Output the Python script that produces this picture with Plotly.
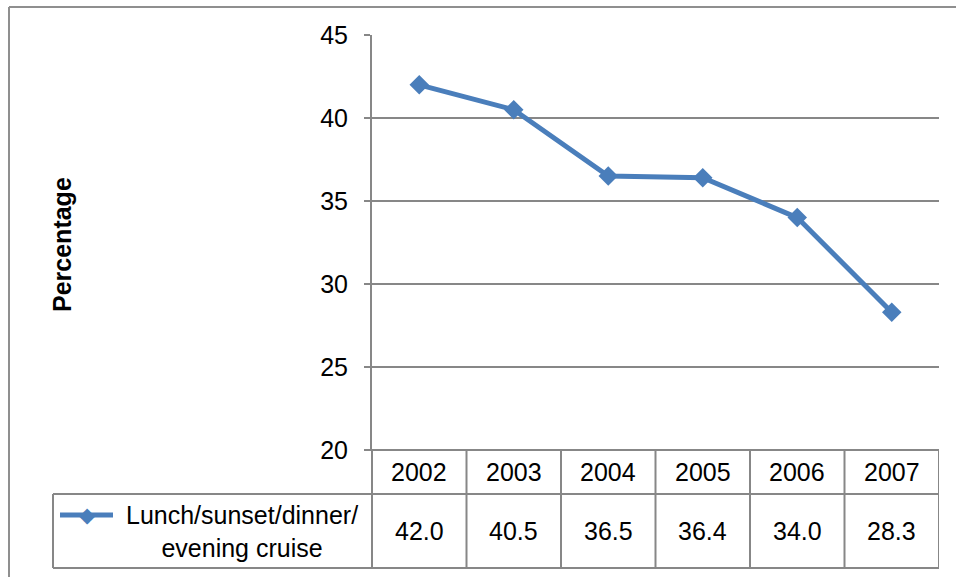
import plotly.graph_objects as go

years = ["2002", "2003", "2004", "2005", "2006", "2007"]
values = [42.0, 40.5, 36.5, 36.4, 34.0, 28.3]
series_name = "Lunch/sunset/dinner/<br>evening cruise"
y_ticks = [20, 25, 30, 35, 40, 45]
y_title = "Percentage"

W, H = 956, 577
BLUE = "#4A7EBB"
GRID = "#878787"
FONT = "Liberation Sans, Arial, sans-serif"
FS = 25

def px(x):
    return x / W

def py(y):
    return 1 - y / H

# plot area in pixels
L, R, T, B = 372, 939, 35, 450
ROW1, ROW2 = 494, 568
LEG_L = 53

xs = list(range(len(years)))

fig = go.Figure()
fig.add_trace(go.Scatter(
    x=xs, y=values, mode="lines+markers",
    line=dict(color=BLUE, width=5),
    marker=dict(symbol="diamond", size=15, color=BLUE),
    showlegend=False, hoverinfo="skip",
))

shapes = []
line_style = dict(color=GRID, width=2)
# outer chart border
shapes.append(dict(type="line", xref="paper", yref="paper", x0=px(9), x1=1, y0=py(7), y1=py(7), line=dict(color="#8f8f8f", width=2)))
shapes.append(dict(type="line", xref="paper", yref="paper", x0=px(9), x1=px(9), y0=py(7), y1=0, line=dict(color="#8f8f8f", width=2)))
# data table
shapes.append(dict(type="line", xref="paper", yref="paper", x0=px(L), x1=px(L), y0=py(B), y1=py(ROW2), line=line_style))
shapes.append(dict(type="line", xref="paper", yref="paper", x0=px(L - 6), x1=px(R), y0=py(B), y1=py(B), line=line_style))
shapes.append(dict(type="line", xref="paper", yref="paper", x0=px(LEG_L), x1=px(R), y0=py(ROW1), y1=py(ROW1), line=line_style))
shapes.append(dict(type="line", xref="paper", yref="paper", x0=px(LEG_L), x1=px(R), y0=py(ROW2), y1=py(ROW2), line=line_style))
shapes.append(dict(type="line", xref="paper", yref="paper", x0=px(LEG_L), x1=px(LEG_L), y0=py(ROW1), y1=py(ROW2), line=line_style))
for i in range(len(years)):
    shapes.append(dict(type="line", xref="x", yref="paper", x0=i + 0.5, x1=i + 0.5, y0=py(B), y1=py(ROW2), line=line_style))
# legend key line
shapes.append(dict(type="line", xref="paper", yref="paper", x0=px(60), x1=px(113), y0=py(515), y1=py(515), line=dict(color=BLUE, width=5)))

annotations = []
for i, (yr, v) in enumerate(zip(years, values)):
    annotations.append(dict(x=i, xref="x", y=py((B + ROW1) / 2), yref="paper", text=yr, showarrow=False,
                            font=dict(family=FONT, size=FS, color="black"), xanchor="center", yanchor="middle"))
    annotations.append(dict(x=i, xref="x", y=py((ROW1 + ROW2) / 2), yref="paper", text=f"{v:.1f}", showarrow=False,
                            font=dict(family=FONT, size=FS, color="black"), xanchor="center", yanchor="middle"))
annotations.append(dict(x=px(242), xref="paper", y=py(531), yref="paper", text=series_name, showarrow=False,
                        font=dict(family=FONT, size=FS, color="black"), xanchor="center", yanchor="middle", align="center"))
annotations.append(dict(x=px(87), xref="paper", y=py(515), yref="paper", text="◆", showarrow=False,
                        font=dict(family="DejaVu Sans", size=21, color=BLUE), xanchor="center", yanchor="middle"))
annotations.append(dict(x=px(62), xref="paper", y=py(245), yref="paper", text=f"<b>{y_title}</b>", showarrow=False,
                        textangle=-90, font=dict(family=FONT, size=FS, color="black"), xanchor="center", yanchor="middle"))

fig.update_layout(
    width=W, height=H,
    margin=dict(l=0, r=0, t=0, b=0, pad=0),
    paper_bgcolor="white", plot_bgcolor="white",
    font=dict(family=FONT, size=FS, color="black"),
    xaxis=dict(domain=[px(L), px(R)], range=[-0.5, 5.5], showgrid=False, zeroline=False,
               showticklabels=False, ticks="", showline=False, fixedrange=True, automargin=False),
    yaxis=dict(domain=[py(B), py(T)], range=[20, 45], tickvals=y_ticks,
               showgrid=True, gridcolor=GRID, gridwidth=2, zeroline=False,
               showline=True, linecolor=GRID, linewidth=2,
               ticks="outside", ticklen=6, tickcolor=GRID, tickwidth=2,
               ticklabelstandoff=11, automargin=False,
               tickfont=dict(family=FONT, size=FS, color="black")),
    shapes=shapes, annotations=annotations,
)

fig.write_html("out.html", config={"displayModeBar": False},
               post_script="document.body.style.margin='0';document.body.style.padding='0';")
